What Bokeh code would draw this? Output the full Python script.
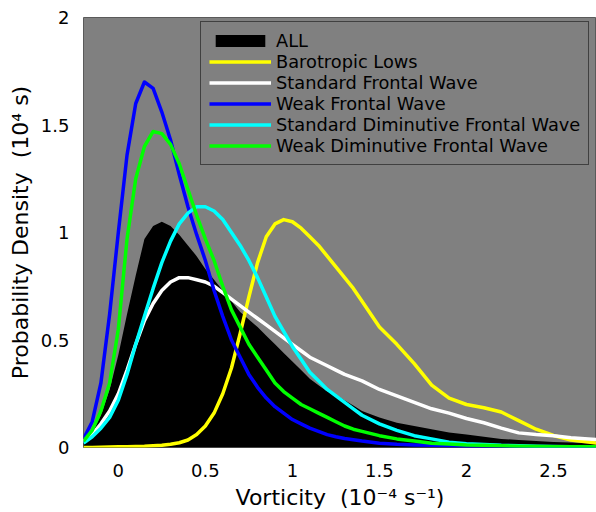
from bokeh.plotting import figure
from bokeh.models import Range1d, Legend, LegendItem, FixedTicker
from bokeh.embed import file_html
from bokeh.resources import INLINE

# Vorticity grid (10^-4 s^-1)
vort = [-0.2, -0.15, -0.1, -0.05, 0.0, 0.05, 0.1, 0.15, 0.2, 0.25, 0.3, 0.35, 0.4, 0.45,
        0.5, 0.55, 0.6, 0.65, 0.7, 0.75, 0.8, 0.85, 0.9, 0.95, 1.0, 1.05, 1.1, 1.15, 1.2,
        1.25, 1.3, 1.35, 1.4, 1.5, 1.6, 1.7, 1.8, 1.9, 2.0, 2.1, 2.2, 2.3, 2.4, 2.5, 2.6, 2.7, 2.75]

all_pdf = [0.02, 0.07, 0.15, 0.27, 0.43, 0.62, 0.80, 0.97, 1.03, 1.05, 1.03, 0.99, 0.94, 0.89,
           0.83, 0.78, 0.73, 0.68, 0.63, 0.595, 0.56, 0.52, 0.48, 0.44, 0.40, 0.36, 0.32, 0.29, 0.26,
           0.245, 0.22, 0.195, 0.17, 0.14, 0.115, 0.10, 0.085, 0.07, 0.06, 0.05, 0.04, 0.035, 0.03, 0.026, 0.023, 0.02, 0.02]

barotropic = [0.0, 0.0, 0.001, 0.002, 0.003, 0.004, 0.005, 0.006, 0.008, 0.01, 0.015, 0.022, 0.035, 0.06,
              0.10, 0.16, 0.25, 0.37, 0.53, 0.70, 0.86, 0.98, 1.04, 1.06, 1.05, 1.02, 0.98, 0.94, 0.89,
              0.84, 0.79, 0.74, 0.68, 0.56, 0.48, 0.39, 0.29, 0.23, 0.20, 0.185, 0.165, 0.125, 0.085, 0.056, 0.035, 0.025, 0.02]

std_frontal = [0.03, 0.06, 0.11, 0.17, 0.25, 0.36, 0.48, 0.59, 0.67, 0.73, 0.77, 0.79, 0.79, 0.78,
               0.77, 0.75, 0.72, 0.69, 0.66, 0.63, 0.60, 0.57, 0.54, 0.51, 0.48, 0.45, 0.42, 0.40, 0.38,
               0.36, 0.34, 0.325, 0.31, 0.27, 0.24, 0.21, 0.18, 0.16, 0.135, 0.115, 0.09, 0.068, 0.06, 0.055, 0.045, 0.04, 0.037]

weak_frontal = [0.04, 0.12, 0.30, 0.62, 1.00, 1.36, 1.60, 1.70, 1.67, 1.56, 1.43, 1.27, 1.12, 0.99,
                0.87, 0.73, 0.61, 0.50, 0.42, 0.34, 0.28, 0.23, 0.19, 0.16, 0.13, 0.11, 0.09, 0.075, 0.06,
                0.05, 0.042, 0.036, 0.03, 0.02, 0.015, 0.012, 0.01, 0.008, 0.006, 0.005, 0.004, 0.003, 0.002, 0.002, 0.001, 0.001, 0.001]

std_dimin = [0.02, 0.05, 0.09, 0.14, 0.22, 0.34, 0.48, 0.61, 0.74, 0.86, 0.96, 1.04, 1.09, 1.12,
             1.12, 1.10, 1.06, 1.00, 0.94, 0.87, 0.79, 0.70, 0.61, 0.54, 0.47, 0.41, 0.35, 0.31, 0.27,
             0.24, 0.21, 0.18, 0.15, 0.11, 0.08, 0.055, 0.04, 0.025, 0.018, 0.014, 0.01, 0.008, 0.006, 0.005, 0.004, 0.003, 0.003]

weak_dimin = [0.03, 0.08, 0.17, 0.30, 0.55, 0.97, 1.25, 1.40, 1.47, 1.46, 1.41, 1.32, 1.20, 1.08,
              0.97, 0.87, 0.75, 0.64, 0.56, 0.48, 0.42, 0.36, 0.30, 0.26, 0.23, 0.20, 0.18, 0.16, 0.14,
              0.12, 0.10, 0.085, 0.075, 0.055, 0.04, 0.03, 0.02, 0.016, 0.012, 0.01, 0.008, 0.006, 0.005, 0.004, 0.003, 0.003, 0.003]

labels = ["ALL", "Barotropic Lows", "Standard Frontal Wave", "Weak Frontal Wave",
          "Standard Diminutive Frontal Wave", "Weak Diminutive Frontal Wave"]
colors = ["#000000", "#ffff00", "#ffffff", "#0000ff", "#00ffff", "#00ff00"]

x_ticks = [0, 0.5, 1, 1.5, 2, 2.5]
y_ticks = [0, 0.5, 1, 1.5, 2]

FONT = "DejaVu Sans"

p = figure(width=596, height=512, output_backend="svg", toolbar_location=None,
           x_range=Range1d(-0.2, 2.747), y_range=Range1d(0, 2),
           min_border_left=83, min_border_right=0, min_border_top=17, min_border_bottom=65)

p.background_fill_color = "#808080"
p.border_fill_color = "white"
p.outline_line_color = "#5a5a5a"
p.grid.visible = False

area = p.varea(x=vort, y1=[0] * len(vort), y2=all_pdf, fill_color=colors[0])
renderers = [area]
for series, c in zip([barotropic, std_frontal, weak_frontal, std_dimin, weak_dimin], colors[1:]):
    r = p.line(vort, series, line_color=c, line_width=3.5, line_join="round")
    renderers.append(r)

legend = Legend(items=[LegendItem(label=l, renderers=[r]) for l, r in zip(labels, renderers)],
                location=(117, 282))
legend.background_fill_color = "#808080"
legend.background_fill_alpha = 1.0
legend.border_line_color = "black"
legend.border_line_width = 1
legend.label_text_font = FONT
legend.label_text_font_size = "17.8px"
legend.label_text_color = "black"
legend.glyph_width = 62
legend.glyph_height = 15
legend.label_height = 21
legend.label_standoff = 5
legend.spacing = 0
legend.padding = 8
legend.margin = 0
p.add_layout(legend, "center")

for ax in (p.xaxis[0], p.yaxis[0]):
    ax.major_tick_line_color = None
    ax.minor_tick_line_color = None
    ax.axis_line_color = None
    ax.major_label_text_font = FONT
    ax.major_label_text_font_size = "18px"
    ax.major_label_text_color = "black"
    ax.axis_label_text_font = FONT
    ax.axis_label_text_font_size = "22px"
    ax.axis_label_text_font_style = "normal"
    ax.axis_label_text_color = "black"

p.xaxis.ticker = FixedTicker(ticks=x_ticks)
p.yaxis.ticker = FixedTicker(ticks=y_ticks)
p.xaxis.major_label_standoff = 10
p.yaxis.major_label_standoff = 8
p.xaxis.axis_label = "Vorticity \u00a0(10\u207b\u2074 s\u207b\u00b9)"
p.yaxis.axis_label = "Probability Density \u00a0(10\u2074 s)"
p.xaxis.axis_label_standoff = 5
p.yaxis.axis_label_standoff = 5

open("out.html", "w").write(file_html(p, INLINE))
